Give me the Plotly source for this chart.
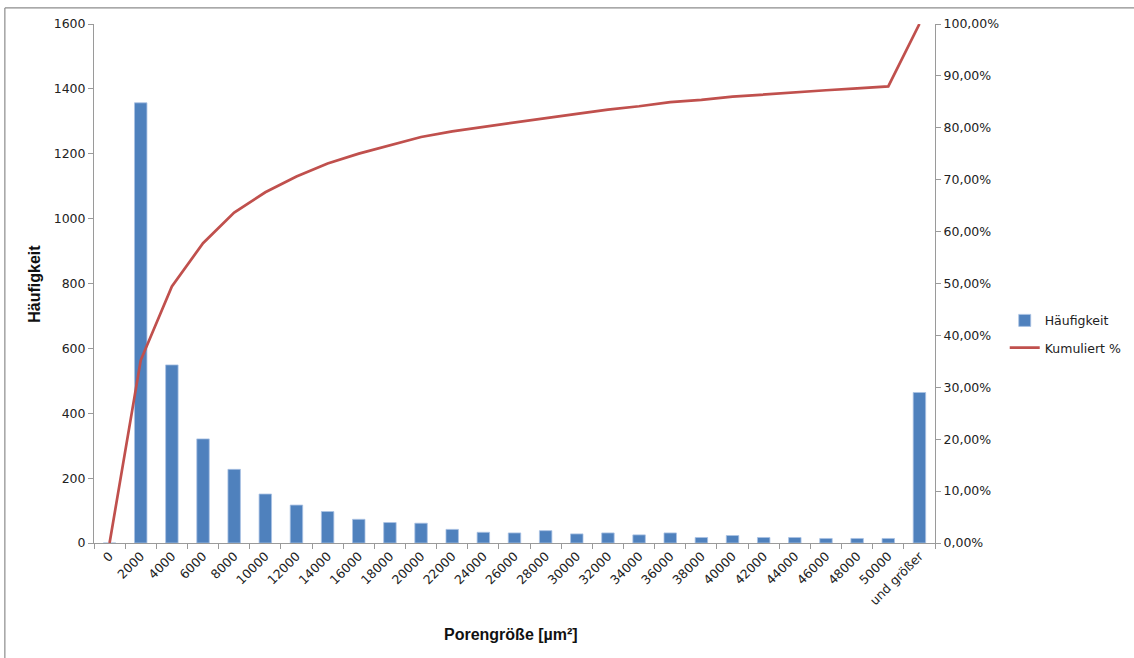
import numpy as np
import plotly.graph_objects as go

# Pore-size classes (upper class limits in µm²) and their counts
categories = ["0", "2000", "4000", "6000", "8000", "10000", "12000", "14000",
              "16000", "18000", "20000", "22000", "24000", "26000", "28000",
              "30000", "32000", "34000", "36000", "38000", "40000", "42000",
              "44000", "46000", "48000", "50000", "und größer"]
counts = [0, 1357, 549, 321, 227, 151, 117, 97, 73, 63, 61, 42, 33, 31, 38,
          28, 31, 25, 31, 17, 23, 17, 17, 14, 14, 14, 464]

# Cumulative share in percent
cumulative = list(np.cumsum(counts) / np.sum(counts) * 100)

left_ticks = [0, 200, 400, 600, 800, 1000, 1200, 1400, 1600]
right_ticks = [0, 10, 20, 30, 40, 50, 60, 70, 80, 90, 100]
right_labels = ["0,00%", "10,00%", "20,00%", "30,00%", "40,00%", "50,00%",
                "60,00%", "70,00%", "80,00%", "90,00%", "100,00%"]

BAR = "#4F81BD"
LINE = "#C0504D"
AXIS = "#9a9a9a"
TICKFONT = dict(family="DejaVu Sans", size=12.5, color="#222222")
TITLEFONT = dict(family="Liberation Sans", size=16, color="#111111")

fig = go.Figure()
fig.add_trace(go.Bar(
    x=categories, y=counts, name="Häufigkeit", legendgroup="h",
    marker=dict(color=BAR, line=dict(color="#a9c2e3", width=0.8)),
    width=0.4, yaxis="y",
))
fig.add_trace(go.Scatter(
    x=categories, y=cumulative, name="Kumuliert %", legendgroup="k",
    mode="lines", line=dict(color=LINE, width=2.7), yaxis="y2",
))

fig.update_layout(
    width=1134, height=658,
    margin=dict(l=94, r=199, t=24, b=115, autoexpand=False),
    paper_bgcolor="white", plot_bgcolor="white",
    showlegend=True,
    legend=dict(xref="container", yref="container",
                x=0.886, y=0.492, xanchor="left", yanchor="middle",
                font=dict(family="DejaVu Sans", size=12.5, color="#222222"),
                traceorder="grouped", tracegroupgap=8, itemwidth=30,
                bgcolor="rgba(0,0,0,0)"),
    xaxis=dict(
        type="category", tickangle=-45, tickfont=TICKFONT, automargin=False,
        showline=True, linecolor=AXIS, linewidth=1,
        ticks="outside", ticklen=5, tickcolor=AXIS, tickson="boundaries",
        showgrid=False, zeroline=False,
    ),
    yaxis=dict(
        range=[0, 1600], tickvals=left_ticks, tickfont=TICKFONT,
        automargin=False,
        showline=True, linecolor=AXIS, linewidth=1,
        ticks="outside", ticklen=5, tickcolor=AXIS,
        showgrid=False, zeroline=False,
    ),
    yaxis2=dict(
        range=[0, 100], overlaying="y", side="right", automargin=False,
        tickvals=right_ticks, ticktext=right_labels, tickfont=TICKFONT,
        showline=True, linecolor=AXIS, linewidth=1,
        ticks="outside", ticklen=5, tickcolor=AXIS,
        showgrid=False, zeroline=False,
    ),
    annotations=[
        dict(text="<b>Häufigkeit</b>", xref="paper", yref="paper",
             x=-0.071, y=0.5, textangle=-90, showarrow=False,
             xanchor="center", yanchor="middle", font=TITLEFONT),
        dict(text="<b>Porengröße [µm²]</b>", xref="paper", yref="paper",
             x=0.496, y=-0.177, showarrow=False,
             xanchor="center", yanchor="middle", font=TITLEFONT),
    ],
    shapes=[
        # outer chart frame (top and left edges)
        dict(type="line", xref="paper", yref="paper",
             x0=-0.106, x1=1.3, y0=1.031, y1=1.031,
             line=dict(color="#8c8c8c", width=1.2)),
        dict(type="line", xref="paper", yref="paper",
             x0=-0.106, x1=-0.106, y0=1.031, y1=-0.3,
             line=dict(color="#8c8c8c", width=1.2)),
    ],
)

fig.write_html("out.html")
